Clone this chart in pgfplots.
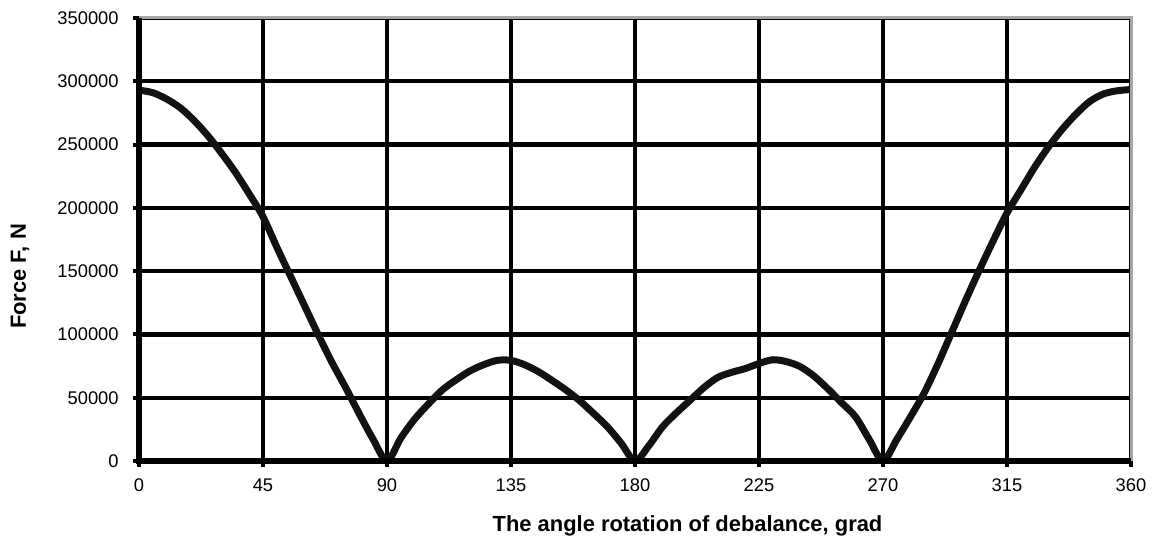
\documentclass[border=0pt]{standalone}
\usepackage{fontspec}
\setmainfont{Liberation Sans}
\usepackage{pgfplots}
\pgfplotsset{compat=1.18}
\begin{document}
\begin{tikzpicture}
\begin{axis}[
  scale only axis,
  width=496bp, height=221.5bp,
  xmin=0, xmax=360, ymin=0, ymax=350000,
  xtick={0,45,...,360},
  ytick={0,50000,...,350000},
  scaled y ticks=false,
  /pgf/number format/assume math mode=true,
  yticklabel style={/pgf/number format/fixed, /pgf/number format/1000 sep={}, inner sep=0pt, xshift=-7bp, font=\fontsize{9.2}{11}\selectfont},
  xticklabel style={inner sep=0pt, yshift=-5.5bp, font=\fontsize{9.2}{11}\selectfont},
  tick align=outside,
  xtick pos=bottom, ytick pos=left,
  major tick length=3bp,
  tick style={black, line width=2bp},
  grid=major,
  major grid style={black, line width=2.2bp},
  axis line style={draw=none},
  xlabel={\bfseries The angle rotation of debalance, grad},
  ylabel={\bfseries Force F, N},
  xlabel style={at={(rel axis cs:0.5,0)}, anchor=north, yshift=-27bp, xshift=26.25bp, inner sep=0pt, font=\fontsize{11}{13}\selectfont},
  ylabel style={at={(rel axis cs:0,0.5)}, anchor=center, yshift=59.5bp, xshift=-18.5bp, inner sep=0pt, font=\fontsize{11}{13}\selectfont},
  clip=false,
]
\addplot[color=black!93, line width=3.5bp, smooth, tension=0.5] coordinates {
(0,293000) (5,291000) (10,286000) (15,279000) (20,269000) (25,257000)
(30,243000) (35,228000) (40,211000) (45,193000) (50,169000) (55,146000)
(60,123000) (65,100000) (70,78000) (75,58000) (80,37000) (85,17000)
(90,0) (95,18000) (100,33000) (105,45000) (110,56000) (115,64000)
(120,71000) (125,76000) (130,79500) (135,79500) (140,76000) (145,70500)
(150,63500) (155,56000) (160,47500) (165,37500) (170,27000) (175,14000)
(180,0) (185,12000) (190,27000) (195,38000) (200,48000) (205,58000)
(210,66000) (215,70000) (220,73000) (225,77000) (230,80000) (235,78500)
(240,74500) (245,67000) (250,57000) (255,46000) (260,35000) (265,17000)
(270,0) (275,17000) (280,35000) (285,54000) (290,77000) (295,102000)
(300,127000) (305,151000) (310,174000) (315,196000) (320,214000) (325,232000)
(330,248000) (335,262000) (340,274000) (345,284000) (350,290000) (355,292500)
(360,293500)
};
\draw[gray!70, line width=1.5bp] (rel axis cs:0,1) -- (rel axis cs:1,1) -- (rel axis cs:1,0);
\draw[black, line width=3bp] (rel axis cs:0,1) -- (rel axis cs:0,0) -- (rel axis cs:1,0);
\end{axis}
\pgfresetboundingbox
\path ([shift={(-69.5bp,-38.5bp)}]current axis.south west) rectangle ([shift={(10.5bp,9bp)}]current axis.north east);
\end{tikzpicture}
\end{document}
